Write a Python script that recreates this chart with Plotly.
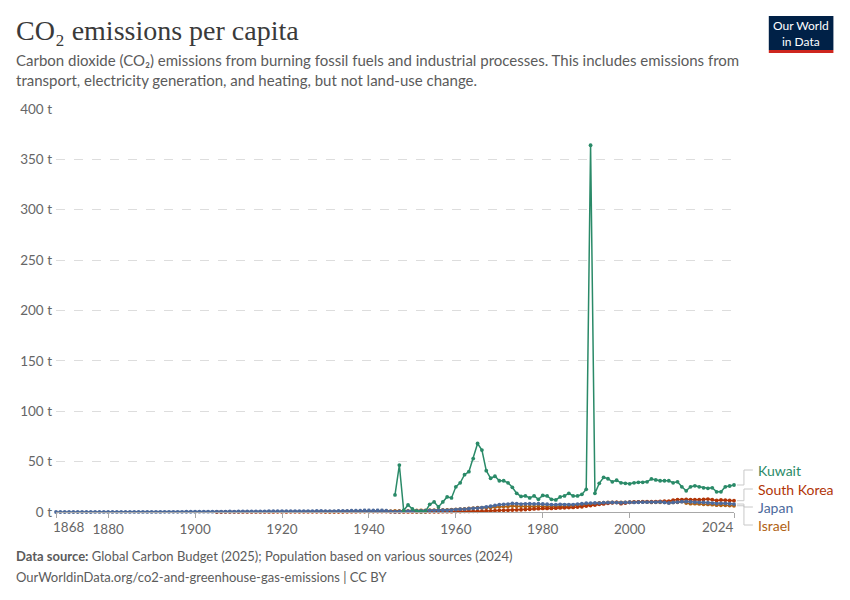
import plotly.graph_objects as go

# per-capita CO2 (tonnes)
JAPAN_START = 1868
japan = [
    0.01, 0.01,
    0.01, 0.01, 0.01, 0.02, 0.02, 0.02, 0.02, 0.03, 0.03, 0.03,
    0.03, 0.04, 0.04, 0.04, 0.05, 0.05, 0.06, 0.07, 0.07, 0.08,
    0.10, 0.11, 0.12, 0.13, 0.15, 0.16, 0.18, 0.20, 0.23, 0.24,
    0.27, 0.30, 0.31, 0.33, 0.36, 0.40, 0.42, 0.45, 0.48, 0.47,
    0.50, 0.55, 0.58, 0.62, 0.60, 0.57, 0.65, 0.75, 0.80, 0.82,
    0.85, 0.78, 0.82, 0.80, 0.85, 0.88, 0.90, 0.95, 0.98, 1.00,
    0.95, 0.88, 0.90, 1.00, 1.10, 1.15, 1.22, 1.35, 1.45, 1.55,
    1.55, 1.60, 1.55, 1.50, 1.30, 0.60, 0.35, 0.50, 0.70, 0.85,
    0.95, 1.15, 1.20, 1.30, 1.35, 1.40, 1.55, 1.75, 1.70, 1.90,
    2.45, 2.80, 2.95, 3.30, 3.65, 3.90, 4.30, 5.00, 5.70, 6.50,
    7.40, 7.60, 7.90, 8.50, 8.30, 7.90, 8.10, 8.20, 8.00, 8.30,
    7.95, 7.70, 7.40, 7.30, 7.60, 7.40, 7.40, 7.40, 7.90, 8.20,
    8.80, 8.90, 9.00, 8.90, 9.40, 9.40, 9.50, 9.40, 9.20, 9.50,
    9.70, 9.50, 9.70, 9.80, 9.80, 9.90, 9.80, 10.00, 9.50, 9.00,
    9.50, 9.90, 10.20, 10.40, 10.10, 9.80, 9.60, 9.50, 9.20, 8.90,
    8.40, 8.60, 8.60, 8.20, 7.90,
]

KOREA_START = 1905
south_korea = [
    0.02, 0.02, 0.03, 0.03, 0.04,
    0.04, 0.05, 0.06, 0.07, 0.08, 0.08, 0.09, 0.10, 0.12, 0.13,
    0.12, 0.12, 0.13, 0.14, 0.15, 0.15, 0.16, 0.17, 0.18, 0.19,
    0.20, 0.20, 0.21, 0.23, 0.25, 0.28, 0.30, 0.33, 0.38, 0.42,
    0.45, 0.48, 0.50, 0.50, 0.45, 0.20, 0.05, 0.08, 0.10, 0.12,
    0.08, 0.06, 0.08, 0.12, 0.15, 0.20, 0.25, 0.28, 0.30, 0.30,
    0.45, 0.50, 0.55, 0.62, 0.65, 0.75, 0.85, 1.00, 1.20, 1.45,
    1.65, 1.75, 1.75, 2.00, 2.10, 2.25, 2.45, 2.75, 3.05, 3.30,
    3.50, 3.50, 3.55, 3.75, 4.00, 4.20, 4.40, 4.50, 4.90, 5.20,
    5.90, 6.40, 6.90, 7.60, 8.00, 8.60, 9.20, 9.60, 8.30, 8.90,
    9.60, 9.80, 10.00, 10.10, 10.30, 10.20, 10.30, 10.60, 10.80, 10.80,
    11.80, 12.30, 12.30, 12.40, 12.20, 12.20, 12.20, 12.50, 12.80, 12.20,
    11.40, 11.90, 11.70, 11.40, 11.20,
]

ISRAEL_START = 1930
israel = [
    0.30, 0.32, 0.35, 0.40, 0.45, 0.50, 0.55, 0.55, 0.55, 0.60,
    0.65, 0.70, 0.80, 0.85, 0.90, 0.95, 1.00, 1.00, 0.90, 1.10,
    1.40, 1.60, 1.55, 1.60, 1.75, 1.90, 2.00, 2.10, 2.20, 2.40,
    2.60, 2.90, 3.20, 3.50, 3.90, 4.20, 4.20, 4.10, 4.50, 4.90,
    5.20, 5.50, 5.40, 5.90, 5.70, 5.70, 5.50, 5.50, 5.40, 5.50,
    5.20, 5.10, 5.00, 5.30, 5.50, 5.50, 5.90, 6.30, 7.00, 7.20,
    7.80, 7.90, 8.40, 9.10, 9.20, 9.50, 9.50, 9.50, 9.50, 9.50,
    9.70, 10.10, 10.00, 10.30, 9.90, 9.50, 9.60, 9.60, 9.70, 9.10,
    9.50, 9.60, 10.30, 8.90, 8.30, 8.30, 8.00, 7.60, 7.50, 7.30,
    6.80, 6.70, 6.60, 6.40, 6.20,
]

KUWAIT_START = 1946
kuwait = [
    16.9, 46.6, 1.5, 7.0,
    3.0, 0.6, 0.5, 0.6, 7.6, 10.0, 5.0, 10.0, 15.0, 14.0,
    25.0, 29.0, 37.0, 40.0, 53.0, 68.0, 61.5, 41.0, 33.5, 35.5,
    31.0, 31.0, 29.0, 24.5, 18.5, 15.5, 16.0, 14.0, 16.0, 12.6,
    16.5, 16.0, 12.6, 12.0, 15.0, 16.0, 18.5, 16.0, 16.0, 17.5,
    22.5, 364.0, 18.5, 28.5, 34.4, 33.0, 30.0, 31.5, 29.0, 28.5,
    28.0, 29.0, 29.5, 29.5, 30.0, 32.8, 31.8, 31.0, 31.0, 31.0,
    29.0, 30.0, 25.0, 21.0, 25.0, 26.0, 25.0, 24.0, 23.5, 24.0,
    20.0, 20.0, 25.0, 25.8, 26.8,
]

x_ticks = [1868, 1880, 1900, 1920, 1940, 1960, 1980, 2000, 2024]
y_ticks = [0, 50, 100, 150, 200, 250, 300, 350, 400]
y_tick_text = [f"{v} t" for v in y_ticks]

# name, start year, values, colour, label row (pixel y of the end label)
SERIES = [
    ("Israel", ISRAEL_START, israel, "#B16214", 525),
    ("South Korea", KOREA_START, south_korea, "#B13507", 489),
    ("Japan", JAPAN_START, japan, "#4C6A9C", 507),
    ("Kuwait", KUWAIT_START, kuwait, "#2A8A68", 470),
]

# page gets the browser's default 8px body margin, so lay out in
# screenshot pixels and shift everything back by that much
OFF = 8
W, H = 850 - OFF, 600 - OFF
L, R, T, B = 52 - OFF, 734 - OFF, 109 - OFF, 512 - OFF
Y_MAX = 400
FONT = "Lato, 'Open Sans', sans-serif"
GREY = "#5b5b5b"
TEXT_X = 10  # left edge for header/footer text (annotations add a little padding)


def px(x):
    return (x - OFF - L) / (R - L)


def py(y):
    return (B - (y - OFF)) / (B - T)


fig = go.Figure()
for name, start, vals, color, _ in SERIES:
    fig.add_trace(
        go.Scatter(
            x=list(range(start, start + len(vals))),
            y=vals,
            name=name,
            mode="lines+markers",
            line={"color": color, "width": 1.5},
            marker={"color": color, "size": 3.8},
            cliponaxis=False,
            hovertemplate=f"{name}<br>%{{x}}: %{{y:.2f}} t<extra></extra>",
        )
    )

shapes = []
annotations = []

# end labels with elbow connectors
for name, start, vals, color, label_y in SERIES:
    y0 = vals[-1] / Y_MAX
    y1 = py(label_y)
    elbow = px(744)
    line = {"color": "#c8c8c8", "width": 1}
    shapes += [
        {"type": "line", "xref": "paper", "yref": "paper", "x0": px(737), "x1": elbow, "y0": y0, "y1": y0, "line": line},
        {"type": "line", "xref": "paper", "yref": "paper", "x0": elbow, "x1": elbow, "y0": y0, "y1": y1, "line": line},
        {"type": "line", "xref": "paper", "yref": "paper", "x0": elbow, "x1": px(753), "y0": y1, "y1": y1, "line": line},
    ]
    annotations.append(
        {"text": name, "xref": "paper", "yref": "paper", "x": px(756), "y": y1,
         "xanchor": "left", "yanchor": "middle", "showarrow": False,
         "font": {"family": FONT, "size": 14, "color": color}}
    )

# first / last x tick labels are edge-aligned, as in the original
for yr, anchor, shift in [(x_ticks[0], "left", -5), (x_ticks[-1], "right", 1)]:
    annotations.append(
        {"text": str(yr), "xref": "x", "yref": "paper", "x": yr, "y": py(517),
         "xanchor": anchor, "yanchor": "top", "xshift": shift, "showarrow": False,
         "font": {"family": FONT, "size": 13.5, "color": "#666"}}
    )

# header
annotations += [
    {"text": "CO₂ emissions per capita", "xref": "paper", "yref": "paper",
     "x": px(TEXT_X), "y": py(31), "xanchor": "left", "yanchor": "middle", "showarrow": False,
     "font": {"family": "'Liberation Serif', 'DejaVu Serif', serif", "size": 28, "color": "#3a3a3a"}},
    {"text": "Carbon dioxide (CO₂) emissions from burning fossil fuels and industrial processes. This includes emissions from<br>"
             "transport, electricity generation, and heating, but not land-use change.",
     "xref": "paper", "yref": "paper", "x": px(TEXT_X), "y": py(49), "xanchor": "left", "yanchor": "top",
     "align": "left", "showarrow": False,
     "font": {"family": FONT, "size": 15, "color": GREY}},
    {"text": "Our World<br>in Data", "xref": "paper", "yref": "paper",
     "x": px(801.5), "y": py(33), "xanchor": "center", "yanchor": "middle", "showarrow": False,
     "font": {"family": FONT, "size": 12, "color": "white"}},
    # footer
    {"text": "<b>Data source:</b> Global Carbon Budget (2025); Population based on various sources (2024)",
     "xref": "paper", "yref": "paper", "x": px(TEXT_X), "y": py(556), "xanchor": "left", "yanchor": "middle",
     "showarrow": False, "font": {"family": FONT, "size": 13, "color": GREY}},
    {"text": "OurWorldinData.org/co2-and-greenhouse-gas-emissions | CC BY",
     "xref": "paper", "yref": "paper", "x": px(TEXT_X), "y": py(577), "xanchor": "left", "yanchor": "middle",
     "showarrow": False, "font": {"family": FONT, "size": 13, "color": GREY}},
]

# logo box
shapes += [
    {"type": "rect", "xref": "paper", "yref": "paper", "x0": px(769), "x1": px(834),
     "y0": py(50), "y1": py(16), "fillcolor": "#002147", "line": {"width": 0}},
    {"type": "rect", "xref": "paper", "yref": "paper", "x0": px(769), "x1": px(834),
     "y0": py(53), "y1": py(50), "fillcolor": "#ce261e", "line": {"width": 0}},
]

fig.update_layout(
    width=W,
    height=H,
    margin={"l": L, "r": W - R, "t": T, "b": H - B},
    paper_bgcolor="white",
    plot_bgcolor="white",
    showlegend=False,
    shapes=shapes,
    annotations=annotations,
    font={"family": FONT, "color": "#666"},
)
fig.update_xaxes(
    range=[x_ticks[0], x_ticks[-1]],
    tickvals=x_ticks,
    ticktext=[""] + [str(v) for v in x_ticks[1:-1]] + [""],
    showgrid=False,
    zeroline=False,
    showline=True,
    linecolor="#a8a8a8",
    ticks="outside",
    ticklen=5,
    tickcolor="#a8a8a8",
    tickfont={"family": FONT, "size": 13.5, "color": "#666"},
)
fig.update_yaxes(
    range=[0, Y_MAX],
    tickvals=y_ticks,
    ticktext=y_tick_text,
    showgrid=True,
    gridcolor="#dddddd",
    griddash="dash",
    zeroline=False,
    ticklabelstandoff=3,
    tickfont={"family": FONT, "size": 13.5, "color": "#666"},
)

fig.write_html("out.html")
